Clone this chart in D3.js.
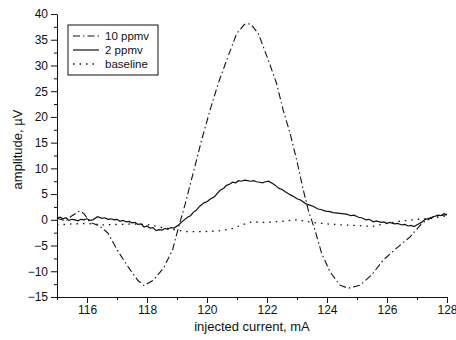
<!DOCTYPE html>
<html>
<head>
<meta charset="utf-8">
<script src="https://cdn.jsdelivr.net/npm/d3@7"></script>
<style>
  body { margin: 0; background: #fff; }
  svg { font-family: "Liberation Sans", Arial, sans-serif; }
</style>
</head>
<body>
<div id="chart"></div>
<script>
// readings: [current mA, amplitude µV]
const ppmv10 = [
  [115, 0.3], [115.3, -0.2], [115.5, 0.8], [115.75, 1.7], [115.9, 1.2], [116.1, -0.5],
  [116.4, -1.1], [116.7, -2.6], [117.0, -5.8], [117.4, -9.4], [117.7, -11.8], [117.9, -12.8],
  [118.2, -11.8], [118.55, -9.4], [118.85, -5.9], [119.05, -1.5], [119.27, 3], [119.54, 9.1],
  [119.82, 15.5], [120.1, 21.3], [120.38, 26.6], [120.66, 31.1], [120.99, 36.2], [121.25, 38.0],
  [121.45, 38.1], [121.71, 36.2], [122.04, 31.1], [122.32, 26.5], [122.54, 21.3], [122.77, 16.8],
  [122.99, 11.6], [123.21, 5.8], [123.38, 1.8], [123.6, -2.0], [123.82, -6.5], [124.1, -10.1],
  [124.43, -12.7], [124.71, -13.3], [125.1, -12.7], [125.49, -10.7], [125.88, -7.8], [126.32, -5.5],
  [126.77, -3.3], [127.16, -0.7], [127.54, 0.6], [128, 1.0]
];
const ppmv2 = [
  [115, 0.3], [115.1, 0.5], [115.2, 0.2], [115.3, 0.4], [115.4, -0.1], [115.5, 0.1], [115.6, 0],
  [115.7, -0.2], [115.8, 0.1], [115.9, 0], [116, 0.2], [116.1, -0.1], [116.2, 0], [116.35, 0.6],
  [116.5, 0.3], [116.6, 0.4], [116.7, 0.1], [116.8, 0.2], [116.9, 0], [117.0, 0.1], [117.1, -0.3],
  [117.2, -0.1], [117.3, -0.4], [117.4, -0.3], [117.5, -0.6], [117.6, -0.5], [117.7, -0.9],
  [117.8, -0.8], [117.9, -1.4], [118.0, -1.2], [118.1, -1.6], [118.2, -1.5], [118.3, -2.1],
  [118.4, -1.9], [118.5, -2.0], [118.6, -1.7], [118.7, -1.8], [118.8, -1.5], [118.9, -1.6],
  [119.05, -1.0], [119.2, -0.2], [119.35, 0.5], [119.45, 0.8], [119.55, 1.5], [119.65, 1.9],
  [119.75, 2.6], [119.9, 3.3], [120.0, 3.5], [120.1, 4.0], [120.25, 4.5], [120.35, 5.2],
  [120.45, 5.8], [120.55, 6.1], [120.65, 6.7], [120.75, 6.9], [120.85, 7.3], [120.95, 7.2],
  [121.05, 7.6], [121.15, 7.5], [121.25, 7.7], [121.35, 7.6], [121.45, 7.5], [121.55, 7.6],
  [121.65, 7.4], [121.75, 7.3], [121.85, 7.2], [121.95, 7.4], [122.05, 7.5], [122.2, 7.0],
  [122.3, 6.6], [122.4, 6.1], [122.5, 5.9], [122.6, 5.5], [122.7, 5.1], [122.8, 4.8],
  [122.9, 4.5], [123.0, 4.1], [123.1, 3.9], [123.2, 3.5], [123.3, 3.1], [123.45, 2.8],
  [123.55, 2.6], [123.7, 2.1], [123.8, 2.0], [123.95, 1.7], [124.1, 1.6], [124.2, 1.4],
  [124.35, 1.3], [124.5, 1.2], [124.65, 1.1], [124.8, 0.8], [124.9, 0.9], [125.05, 0.5],
  [125.15, 0.4], [125.3, 0], [125.4, 0.1], [125.55, -0.4], [125.65, -0.2], [125.8, -0.5],
  [125.9, -0.4], [126.0, -0.7], [126.1, -0.5], [126.25, -0.8], [126.35, -0.7], [126.5, -1.0],
  [126.6, -0.9], [126.7, -1.2], [126.8, -1.1], [126.9, -1.3], [127.05, -0.8], [127.15, -0.5],
  [127.25, 0], [127.35, 0.2], [127.5, 0.5], [127.6, 0.7], [127.7, 0.9], [127.8, 0.8],
  [127.9, 1.2], [128, 1.0]
];
const baseline = [
  [115, -1.0], [115.5, -0.8], [116, -0.7], [116.5, -1.0], [117, -0.9], [117.5, -0.8], [118, -0.9],
  [118.5, -1.5], [118.9, -1.9], [119.3, -2.3], [119.8, -2.3], [120.3, -2.2], [120.8, -1.8],
  [121.2, -0.9], [121.5, -0.4], [122, -0.5], [122.5, -0.3], [123, 0], [123.5, -0.5], [124, -0.8],
  [124.5, -1.0], [125, -1.1], [125.5, -1.3], [125.9, -0.8], [126.4, -0.3], [127, 0.1],
  [127.5, 0.3], [128, 0.8]
];
const xTicks = [116, 118, 120, 122, 124, 126, 128];
const xMinorTicks = [115, 117, 119, 121, 123, 125, 127];
const yTicks = [-15, -10, -5, 0, 5, 10, 15, 20, 25, 30, 35, 40];
const yMinorTicks = [-12.5, -7.5, -2.5, 2.5, 7.5, 12.5, 17.5, 22.5, 27.5, 32.5, 37.5];
const seriesNames = ['10 ppmv', '2 ppmv', 'baseline'];

const width = 456, height = 340;
const margin = { top: 14, right: 9, bottom: 43, left: 57 };
const plotW = width - margin.left - margin.right;
const plotH = height - margin.top - margin.bottom;

const svg = d3.select('#chart').append('svg')
  .attr('width', width)
  .attr('height', height);

const g = svg.append('g')
  .attr('transform', `translate(${margin.left},${margin.top})`);

const x = d3.scaleLinear().domain([115, 128]).range([0, plotW]);
const y = d3.scaleLinear().domain([-15, 40]).range([plotH, 0]);

// axes
const xAxis = g.append('g')
  .attr('transform', `translate(0,${plotH})`)
  .call(d3.axisBottom(x).tickValues(xTicks).tickSize(6).tickSizeOuter(0).tickPadding(2));
// last label sits at the edge of the window, nudge it in
xAxis.selectAll('.tick text').filter(d => d === 128).attr('text-anchor', 'end').attr('dx', '10');
g.append('g')
  .attr('transform', `translate(0,${plotH})`)
  .call(d3.axisBottom(x).tickValues(xMinorTicks).tickSize(3).tickFormat('').tickSizeOuter(0))
  .select('.domain').remove();

g.append('g')
  .call(d3.axisLeft(y).tickValues(yTicks).tickSize(6).tickSizeOuter(0).tickPadding(3));
g.append('g')
  .call(d3.axisLeft(y).tickValues(yMinorTicks).tickSize(3).tickFormat('').tickSizeOuter(0))
  .select('.domain').remove();

g.selectAll('.tick text').attr('font-size', 12).attr('fill', '#111');
g.selectAll('.domain, .tick line').attr('stroke', '#111');

// lines
const line = d3.line().x(d => x(d[0])).y(d => y(d[1]));
const styles = [
  { data: ppmv10, dash: '7,3,1.5,3', width: 1.1 },
  { data: ppmv2, dash: null, width: 1.2 },
  { data: baseline, dash: '1.5,5', width: 1.3 }
];
styles.forEach(s => {
  g.append('path')
    .datum(s.data)
    .attr('fill', 'none')
    .attr('stroke', '#111')
    .attr('stroke-width', s.width)
    .attr('stroke-dasharray', s.dash)
    .attr('d', line);
});

// axis titles
svg.append('text')
  .attr('x', margin.left + plotW / 2)
  .attr('y', 331)
  .attr('text-anchor', 'middle')
  .attr('font-size', 13)
  .attr('fill', '#111')
  .text('injected current, mA');

svg.append('text')
  .attr('transform', `translate(22,${margin.top + plotH / 2 - 6}) rotate(-90)`)
  .attr('text-anchor', 'middle')
  .attr('font-size', 13)
  .attr('fill', '#111')
  .text('amplitude, µV');

// legend
const legend = svg.append('g').attr('transform', 'translate(68,25)');
legend.append('rect')
  .attr('width', 90).attr('height', 50)
  .attr('fill', '#fff').attr('stroke', '#111').attr('stroke-width', 1);
seriesNames.forEach((name, i) => {
  const ly = 11 + i * 14;
  legend.append('line')
    .attr('x1', 5).attr('x2', 31).attr('y1', ly).attr('y2', ly)
    .attr('stroke', '#111')
    .attr('stroke-width', styles[i].width)
    .attr('stroke-dasharray', styles[i].dash);
  legend.append('text')
    .attr('x', 37).attr('y', ly + 4)
    .attr('font-size', 11.5)
    .attr('fill', '#111')
    .text(name);
});
</script>
</body>
</html>
